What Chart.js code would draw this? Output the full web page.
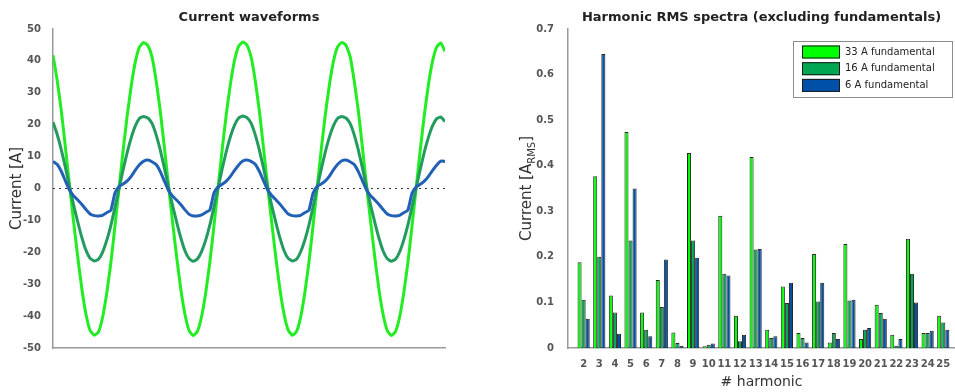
<!DOCTYPE html>
<html>
<head>
<meta charset="utf-8">
<script src="https://cdn.jsdelivr.net/npm/chart.js@4.4.1/dist/chart.umd.min.js"></script>
<style>
  html, body { margin: 0; padding: 0; background: #ffffff; }
  #wrap { position: relative; width: 955px; height: 392px; }
  #waveChart { position: absolute; left: 0; top: 0; }
  #spectraChart { position: absolute; left: 480px; top: 0; }
</style>
</head>
<body>
<div id="wrap">
  <canvas id="waveChart" width="480" height="392"></canvas>
  <canvas id="spectraChart" width="475" height="392"></canvas>
</div>
<script>
// Current waveforms (one value per sample, ~4 periods)
const wave33A = [
  41.8, 34.0, 24.5, 13.0, 1.0, -10.5, -21.5, -31.5, -39.5, -44.5, -46.0, -45.0, -40.5, -33.0, -23.5, -12.0, 0.0, 12.0, 23.0, 32.5, 40.0, 44.5, 45.8, 44.8,
  41.2, 33.8, 24.2, 12.8, 0.8, -10.8, -21.8, -31.8, -39.6, -44.6, -46.1, -44.8, -40.2, -32.8, -23.2, -11.8, 0.2, 12.2, 23.3, 32.8, 40.2, 44.6, 45.9, 45.0,
  41.3, 33.9, 24.4, 12.9, 0.9, -10.6, -21.6, -31.6, -39.4, -44.4, -46.0, -44.9, -40.4, -32.9, -23.4, -11.9, 0.1, 12.1, 23.2, 32.6, 40.1, 44.5, 45.8, 44.9,
  41.4, 33.7, 24.3, 12.7, 0.7, -10.7, -21.7, -31.7, -39.5, -44.5, -46.1, -44.9, -40.3, -32.8, -23.3, -11.8, 0.1, 12.0, 23.1, 32.7, 40.0, 44.4, 45.6, 43.0
];
const wave16A = [
  20.8, 17.0, 12.2, 6.6, 0.6, -5.2, -10.5, -15.4, -19.4, -21.9, -22.7, -22.2, -20.0, -16.4, -11.7, -6.0, 0.0, 5.9, 11.4, 16.1, 19.8, 22.0, 22.6, 22.1,
  20.4, 16.8, 12.0, 6.4, 0.4, -5.4, -10.7, -15.6, -19.6, -22.0, -22.8, -22.1, -19.8, -16.2, -11.5, -5.8, 0.2, 6.1, 11.6, 16.3, 19.9, 22.1, 22.7, 22.2,
  20.5, 16.9, 12.1, 6.5, 0.5, -5.3, -10.6, -15.5, -19.5, -21.9, -22.7, -22.2, -19.9, -16.3, -11.6, -5.9, 0.1, 6.0, 11.5, 16.2, 19.8, 22.0, 22.6, 22.1,
  20.4, 16.8, 12.0, 6.4, 0.4, -5.4, -10.7, -15.6, -19.6, -22.0, -22.8, -22.2, -19.9, -16.2, -11.5, -5.8, 0.1, 6.0, 11.5, 16.1, 19.7, 21.9, 22.4, 21.0
];
const wave6A = [
  8.5, 7.6, 5.4, 2.4, -0.5, -2.3, -3.6, -5.0, -6.6, -8.0, -8.5, -8.6, -8.4, -7.6, -6.9, -1.5, 0.6, 1.4, 2.4, 3.9, 5.8, 7.5, 8.6, 8.9,
  8.4, 7.5, 5.3, 2.3, -0.6, -2.4, -3.7, -5.1, -6.7, -8.1, -8.6, -8.6, -8.3, -7.5, -6.8, -1.4, 0.5, 1.3, 2.3, 3.8, 5.7, 7.4, 8.6, 8.9,
  8.5, 7.6, 5.4, 2.5, -0.4, -2.2, -3.5, -4.9, -6.5, -8.0, -8.5, -8.6, -8.4, -7.6, -6.9, -1.6, 0.6, 1.4, 2.4, 3.9, 5.9, 7.6, 8.7, 8.9,
  8.4, 7.5, 5.3, 2.4, -0.5, -2.3, -3.6, -5.0, -6.6, -8.0, -8.5, -8.6, -8.4, -7.6, -6.8, -1.5, 0.5, 1.3, 2.3, 3.8, 5.7, 7.4, 8.6, 8.5
];
const waveTicks = [-50, -40, -30, -20, -10, 0, 10, 20, 30, 40, 50];

// Harmonic RMS spectra
const harmonics = [2, 3, 4, 5, 6, 7, 8, 9, 10, 11, 12, 13, 14, 15, 16, 17, 18, 19, 20, 21, 22, 23, 24, 25];
const rms33A = [0.188, 0.377, 0.115, 0.474, 0.078, 0.149, 0.034, 0.428, 0.004, 0.290, 0.071, 0.419, 0.040, 0.135, 0.033, 0.206, 0.012, 0.228, 0.020, 0.095, 0.029, 0.240, 0.033, 0.071];
const rms16A = [0.106, 0.200, 0.078, 0.236, 0.040, 0.090, 0.011, 0.236, 0.007, 0.163, 0.015, 0.216, 0.022, 0.099, 0.022, 0.102, 0.033, 0.104, 0.040, 0.077, 0.005, 0.163, 0.033, 0.056];
const rms6A  = [0.064, 0.645, 0.031, 0.350, 0.026, 0.194, 0.005, 0.198, 0.010, 0.159, 0.029, 0.217, 0.026, 0.143, 0.012, 0.143, 0.020, 0.106, 0.044, 0.064, 0.020, 0.100, 0.038, 0.040];
const spectraTicks = [0, 0.1, 0.2, 0.3, 0.4, 0.5, 0.6, 0.7];
const seriesNames = ['33 A fundamental', '16 A fundamental', '6 A fundamental'];

const barColors = ['#00ff00', '#00a651', '#0050a8'];
const lineColors = ['#22ec22', '#239b5e', '#2160b4'];

const FONT = "'DejaVu Sans', sans-serif";
const tickFont = { family: FONT, size: 10, weight: 'bold' };
const titleFont = { family: FONT, size: 13, weight: 'bold' };

const toXY = arr => arr.map((v, i) => ({ x: i, y: v }));

// draws rotated y titles (with subscript), x title and the boxed legend
const annotate = {
  id: 'annotate',
  afterDraw(chart, args, opts) {
    const ctx = chart.ctx;
    const a = chart.chartArea;
    ctx.save();
    if (opts.yTitle) {
      const parts = opts.yTitle;
      const mainF = `15px ${FONT}`;
      const subF = `10px ${FONT}`;
      let total = 0;
      parts.forEach(p => { ctx.font = p.sub ? subF : mainF; total += ctx.measureText(p.text).width; });
      ctx.translate(opts.yTitleX, (a.top + a.bottom) / 2);
      ctx.rotate(-Math.PI / 2);
      ctx.fillStyle = '#333';
      ctx.textBaseline = 'middle';
      ctx.textAlign = 'left';
      let cx = -total / 2;
      parts.forEach(p => {
        ctx.font = p.sub ? subF : mainF;
        ctx.fillText(p.text, cx, p.sub ? 5 : 0);
        cx += ctx.measureText(p.text).width;
      });
      ctx.setTransform(1, 0, 0, 1, 0, 0);
    }
    if (opts.xTitle) {
      ctx.font = `14px ${FONT}`;
      ctx.fillStyle = '#333';
      ctx.textAlign = 'center';
      ctx.textBaseline = 'middle';
      ctx.fillText(opts.xTitle, (a.left + a.right) / 2, opts.xTitleY);
    }
    if (opts.legend) {
      const L = opts.legend;
      ctx.fillStyle = '#ffffff';
      ctx.fillRect(L.x, L.y, L.w, L.h);
      ctx.strokeStyle = '#8c8c8c';
      ctx.lineWidth = 1;
      ctx.strokeRect(L.x + 0.5, L.y + 0.5, L.w, L.h);
      ctx.font = `10px ${FONT}`;
      ctx.textBaseline = 'middle';
      ctx.textAlign = 'left';
      seriesNames.forEach((name, i) => {
        const ry = L.y + 11 + i * 16.7;
        ctx.fillStyle = barColors[i];
        ctx.fillRect(L.x + 9, ry - 6.5, 38, 13);
        ctx.strokeStyle = '#1a1a1a';
        ctx.strokeRect(L.x + 9.5, ry - 6, 37, 12);
        ctx.fillStyle = '#222';
        ctx.fillText(name, L.x + 52, ry);
      });
    }
    ctx.restore();
  }
};

new Chart(document.getElementById('waveChart'), {
  type: 'line',
  data: {
    datasets: [
      { data: toXY(wave6A), borderColor: lineColors[2], borderWidth: 3, pointRadius: 0, tension: 0.15, order: 1 },
      { data: toXY(wave16A), borderColor: lineColors[1], borderWidth: 3, pointRadius: 0, tension: 0.15, order: 2 },
      { data: toXY(wave33A), borderColor: lineColors[0], borderWidth: 3, pointRadius: 0, tension: 0.15, order: 3 },
      { data: [{ x: 0, y: 0 }, { x: wave33A.length - 1, y: 0 }], borderColor: '#333', borderWidth: 1,
        borderDash: [2, 4], pointRadius: 0, order: 4 }
    ]
  },
  options: {
    responsive: false,
    animation: false,
    layout: { padding: { left: 0, right: 35, top: 0, bottom: 0 } },
    plugins: {
      legend: { display: false },
      tooltip: { enabled: false },
      title: {
        display: true, text: 'Current waveforms', fullSize: false,
        font: titleFont, color: '#222', padding: { top: 10, bottom: 3.4 }
      },
      annotate: { yTitle: [{ text: 'Current [A]' }], yTitleX: 17 }
    },
    scales: {
      x: {
        type: 'linear', min: 0, max: wave33A.length - 1,
        ticks: { display: false },
        grid: { display: false },
        border: { color: '#9a9a9a', width: 1.5 },
        afterFit: s => { s.height = 44; }
      },
      y: {
        min: -50, max: 50,
        afterBuildTicks: s => { s.ticks = waveTicks.map(v => ({ value: v })); },
        ticks: { font: tickFont, color: '#555', padding: 4 },
        grid: { display: false },
        border: { color: '#9a9a9a', width: 1.5 },
        afterFit: s => { s.width = 53; }
      }
    }
  },
  plugins: [annotate]
});

const barData = arr => arr.map((v, i) => ({ x: harmonics[i], y: v }));

new Chart(document.getElementById('spectraChart'), {
  type: 'bar',
  data: {
    datasets: [rms33A, rms16A, rms6A].map((arr, i) => ({
      label: seriesNames[i],
      data: barData(arr),
      backgroundColor: barColors[i],
      borderColor: 'rgba(0,0,0,0.85)',
      borderWidth: 1,
      categoryPercentage: 0.78,
      barPercentage: 1.0
    }))
  },
  options: {
    responsive: false,
    animation: false,
    layout: { padding: { left: 0, right: 0, top: 0, bottom: 0 } },
    plugins: {
      legend: { display: false },
      tooltip: { enabled: false },
      title: {
        display: true, text: 'Harmonic RMS spectra (excluding fundamentals)', fullSize: false,
        font: titleFont, color: '#222', padding: { top: 10, bottom: 3.4 }
      },
      annotate: {
        yTitle: [{ text: 'Current [A' }, { text: 'RMS', sub: true }, { text: ']' }],
        yTitleX: 47,
        xTitle: '# harmonic', xTitleY: 382,
        legend: { x: 313, y: 41, w: 159, h: 56 }
      }
    },
    scales: {
      x: {
        type: 'linear', min: 1, max: 25.75, offset: false,
        afterBuildTicks: s => { s.ticks = harmonics.map(v => ({ value: v })); },
        ticks: { font: tickFont, color: '#555', padding: 2, autoSkip: false, maxRotation: 0 },
        grid: { display: false },
        border: { color: '#9a9a9a', width: 1.5 },
        afterFit: s => { s.height = 44; }
      },
      y: {
        min: 0, max: 0.7,
        afterBuildTicks: s => { s.ticks = spectraTicks.map(v => ({ value: v })); },
        ticks: {
          font: tickFont, color: '#555', padding: 6,
          callback: v => (v === 0 ? '0' : v.toFixed(1))
        },
        grid: { display: false },
        border: { color: '#9a9a9a', width: 1.5 },
        afterFit: s => { s.width = 88; }
      }
    }
  },
  plugins: [annotate]
});
</script>
</body>
</html>
